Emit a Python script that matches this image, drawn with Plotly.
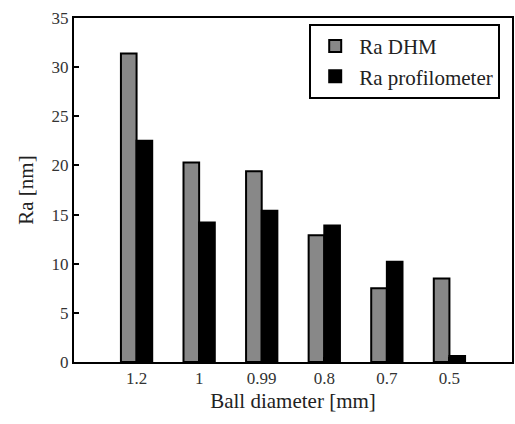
import plotly.graph_objects as go

categories = ["1.2", "1", "0.99", "0.8", "0.7", "0.5"]
ra_dhm = [31.4, 20.3, 19.4, 12.9, 7.5, 8.5]
ra_profilometer = [22.5, 14.2, 15.4, 13.9, 10.2, 0.6]

xpos = list(range(1, len(categories) + 1))

fig = go.Figure()
fig.add_trace(go.Bar(x=xpos, y=ra_dhm, name="Ra DHM",
                     marker=dict(color="#888888", line=dict(color="black", width=2))))
fig.add_trace(go.Bar(x=xpos, y=ra_profilometer, name="Ra profilometer",
                     marker=dict(color="black", line=dict(color="black", width=2))))

font = "Liberation Serif, Times New Roman, serif"
fig.update_layout(
    template="none",
    width=515, height=424,
    margin=dict(l=74, r=3, t=18, b=62, autoexpand=False),
    paper_bgcolor="white", plot_bgcolor="white",
    barmode="group", bargap=0.5, bargroupgap=0,
    font=dict(family=font, size=17, color="#333333"),
    showlegend=True,
    legend=dict(x=0.537, y=0.983, xanchor="left", yanchor="top",
                bordercolor="black", borderwidth=2, bgcolor="white",
                font=dict(family=font, size=21, color="#222222"),
                tracegroupgap=0, itemwidth=38),
)
fig.update_xaxes(
    range=[0, 7], tickmode="array", tickvals=xpos, ticktext=categories,
    showline=True, linecolor="#000000", linewidth=2, mirror=True,
    ticks="inside", ticklen=5, tickcolor="black", tickwidth=2,
    showgrid=False, zeroline=False, automargin=False,
    title=dict(text="Ball diameter [mm]", font=dict(family=font, size=21, color="#222222"), standoff=6),
)
fig.update_yaxes(
    range=[0, 35], tickmode="array", tickvals=[0, 5, 10, 15, 20, 25, 30, 35],
    showline=True, linecolor="#000000", linewidth=2, mirror=True,
    ticks="inside", ticklen=5, tickcolor="black", tickwidth=2,
    showgrid=False, zeroline=False, automargin=False,
    title=dict(text="Ra [nm]", font=dict(family=font, size=21, color="#222222"), standoff=12),
)
fig.write_html("out.html", config={"displayModeBar": False},
               post_script="document.body.style.margin='0';document.body.style.overflow='hidden';")
